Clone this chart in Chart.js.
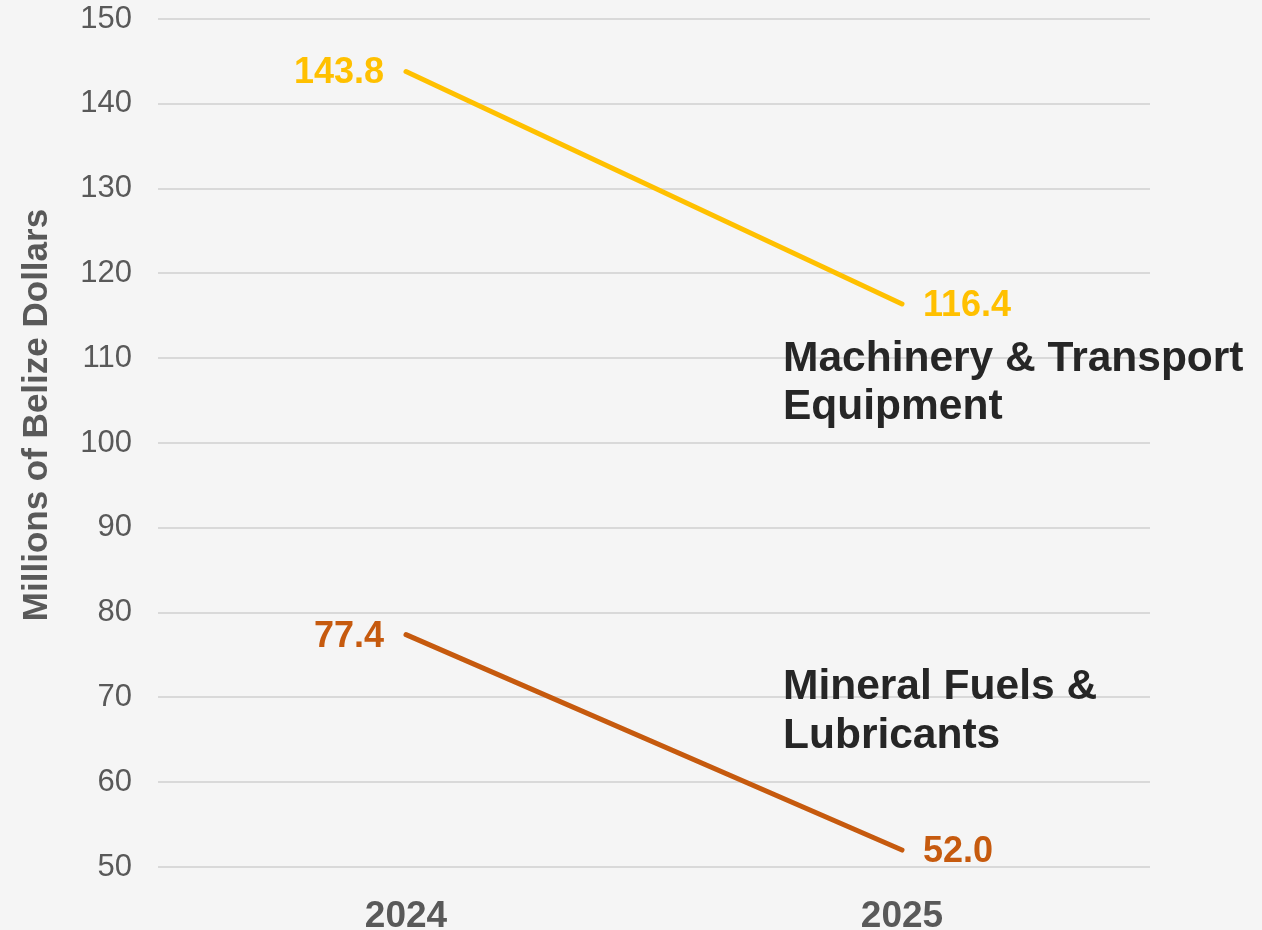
<!DOCTYPE html>
<html>
<head>
<meta charset="utf-8">
<script src="https://cdn.jsdelivr.net/npm/chart.js@4.4.1/dist/chart.umd.min.js"></script>
<style>
  html, body { margin: 0; padding: 0; background: #f5f5f5; }
  #wrap { width: 1262px; height: 930px; position: relative; }
</style>
</head>
<body>
<div id="wrap"><canvas id="chart"></canvas></div>
<script>
(function () {
    'use strict';

    var years = ['2024', '2025'];
    var machinery = [143.8, 116.4];
    var fuels = [77.4, 52.0];
    var seriesNames = [['Machinery & Transport', 'Equipment'], ['Mineral Fuels &', 'Lubricants']];
    var yTicks = [50, 60, 70, 80, 90, 100, 110, 120, 130, 140, 150];
    var axisTitle = 'Millions of Belize Dollars';

    var YELLOW = '#FFC000';
    var ORANGE = '#C65A0E';
    var FONT = '"Liberation Sans", Arial, sans-serif';

    // value labels beside each point, series names on the right
    var labelsPlugin = {
        id: 'labels',
        afterDraw: function (chart) {
            var ctx = chart.ctx;
            var x = chart.scales.x, y = chart.scales.y;
            ctx.save();

            chart.data.datasets.forEach(function (ds, i) {
                var meta = chart.getDatasetMeta(i);
                ctx.fillStyle = ds.borderColor;
                ctx.font = 'bold 36px ' + FONT;
                ctx.textBaseline = 'middle';
                meta.data.forEach(function (pt, j) {
                    var txt = ds.data[j].toFixed(1);
                    if (j === 0) {
                        ctx.textAlign = 'right';
                        ctx.fillText(txt, pt.x - 22, pt.y + 2);
                    } else {
                        ctx.textAlign = 'left';
                        ctx.fillText(txt, pt.x + 21, pt.y + 2);
                    }
                });
            });

            // series names
            var nameX = x.getPixelForValue(1) - 119;
            var nameY = [[108.5, 102.8], [69.8, 64.0]];
            ctx.fillStyle = '#262626';
            ctx.font = 'bold 42.5px ' + FONT;
            ctx.textAlign = 'left';
            ctx.textBaseline = 'alphabetic';
            seriesNames.forEach(function (lines, i) {
                lines.forEach(function (line, k) {
                    ctx.fillText(line, nameX, y.getPixelForValue(nameY[i][k]));
                });
            });

            // y axis title
            ctx.fillStyle = '#595959';
            ctx.font = 'bold 35px ' + FONT;
            ctx.textAlign = 'center';
            ctx.textBaseline = 'middle';
            ctx.translate(37, 415);
            ctx.rotate(-Math.PI / 2);
            ctx.fillText(axisTitle, 0, 0);
            ctx.restore();
        }
    };

    new Chart(document.getElementById('chart'), {
        type: 'line',
        data: {
            labels: years,
            datasets: [{
                label: seriesNames[0].join(' '),
                data: machinery,
                borderColor: YELLOW,
                borderWidth: 5,
                borderCapStyle: 'round',
                pointRadius: 0,
                tension: 0
            }, {
                label: seriesNames[1].join(' '),
                data: fuels,
                borderColor: ORANGE,
                borderWidth: 5,
                borderCapStyle: 'round',
                pointRadius: 0,
                tension: 0
            }]
        },
        options: {
            responsive: true,
            maintainAspectRatio: false,
            animation: false,
            layout: { padding: { top: 19, right: 112, bottom: 0, left: 0 } },
            plugins: {
                legend: { display: false },
                tooltip: { enabled: false }
            },
            scales: {
                x: {
                    offset: true,
                    grid: { display: false },
                    border: { display: false },
                    ticks: {
                        color: '#595959',
                        font: { family: FONT, size: 37, weight: 'bold' },
                        padding: 20
                    },
                    afterFit: function (scale) {
                        scale.height = 63;
                        scale.paddingLeft = 0;
                        scale.paddingRight = 0;
                    }
                },
                y: {
                    min: 50,
                    max: 150,
                    afterBuildTicks: function (scale) {
                        scale.ticks = yTicks.map(function (v) { return { value: v }; });
                    },
                    grid: { color: '#d9d9d9', lineWidth: 2, drawTicks: false },
                    border: { display: false },
                    ticks: {
                        color: '#595959',
                        font: { family: FONT, size: 31 },
                        padding: 26
                    },
                    afterFit: function (scale) {
                        scale.width = 158;
                        scale.paddingTop = 0;
                        scale.paddingBottom = 0;
                    }
                }
            }
        },
        plugins: [labelsPlugin]
    });
})();
</script>
</body>
</html>
